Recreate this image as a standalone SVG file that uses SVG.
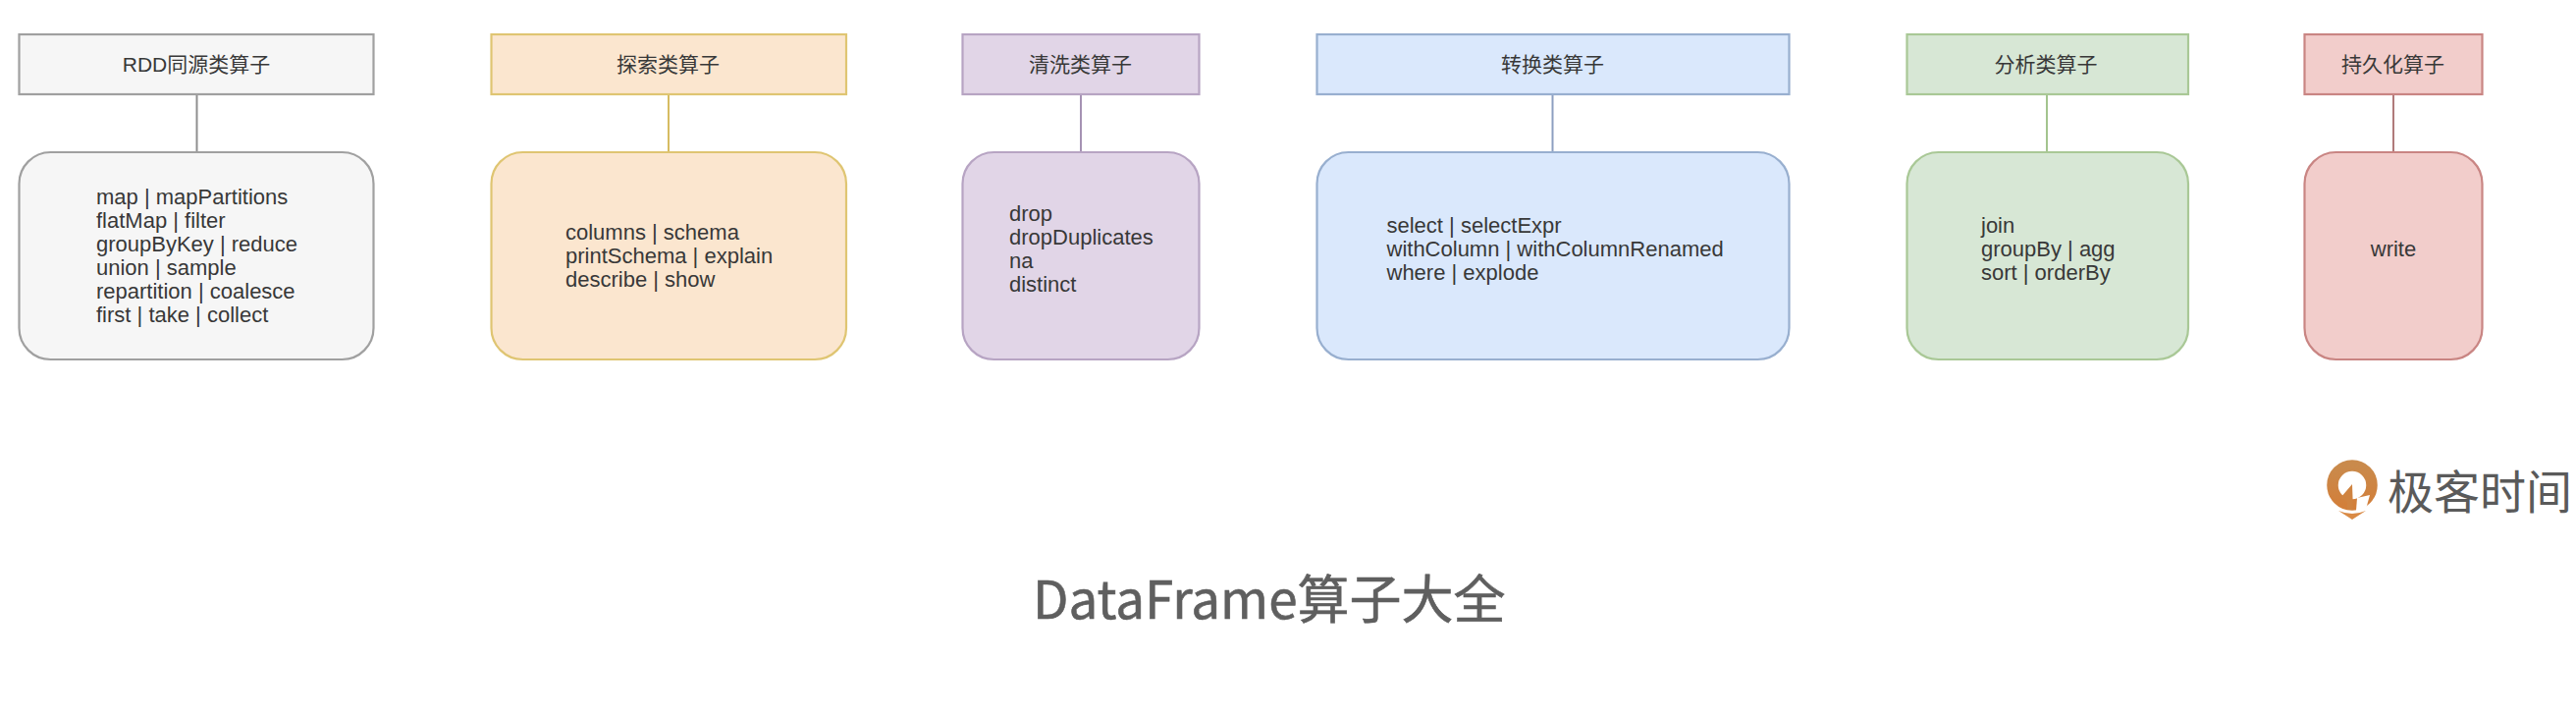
<svg xmlns="http://www.w3.org/2000/svg" width="2624" height="728" viewBox="0 0 2624 728">
<style>
text{font-family:"Liberation Sans","Noto Sans CJK SC",Arial,sans-serif;fill:#383838}
.h{font-size:21px;text-anchor:middle}
.b{font-size:22px}
.c{fill:none;stroke-width:2}
.n{stroke-width:2.2}
.gray .n{fill:#f6f6f6;stroke:#a0a0a0}
.yellow .n{fill:#fbe6cf;stroke:#dfc572}
.purple .n{fill:#e1d5e7;stroke:#b7a4c3}
.blue .n{fill:#dae8fc;stroke:#98afcf}
.green .n{fill:#d7e7d5;stroke:#a9c896}
.red .n{fill:#f2cdcb;stroke:#c98583}
.cjk{font-family:"Noto Sans CJK SC","Liberation Sans",sans-serif}
</style>
<defs><linearGradient id="lg" x1="0" y1="0" x2="0" y2="1"><stop offset="0" stop-color="#c98a4c"/><stop offset="1" stop-color="#d27f3a"/></linearGradient></defs>
<g id="connectors" class="c">
<line x1="200.500" y1="96" x2="200.500" y2="155" stroke="#8f8f8f"/>
<line x1="681" y1="96" x2="681" y2="155" stroke="#d6bc62"/>
<line x1="1101" y1="96" x2="1101" y2="155" stroke="#a592b3"/>
<line x1="1581.500" y1="96" x2="1581.500" y2="155" stroke="#8d9fc0"/>
<line x1="2085" y1="96" x2="2085" y2="155" stroke="#a3c48e"/>
<line x1="2438" y1="96" x2="2438" y2="155" stroke="#b07a7a"/>
</g>
<g id="rdd-head" class="gray"><rect class="n" x="19.500" y="35" width="361" height="61"/><text class="h" x="200" y="73">RDD同源类算子</text></g>
<g id="rdd-body" class="gray"><rect class="n" x="19.500" y="155" width="361" height="211" rx="32"/>
<text class="b" x="98" y="208">map | mapPartitions</text><text class="b" x="98" y="232">flatMap | filter</text><text class="b" x="98" y="256">groupByKey | reduce</text><text class="b" x="98" y="280">union | sample</text><text class="b" x="98" y="304">repartition | coalesce</text><text class="b" x="98" y="328">first | take | collect</text></g>
<g id="explore-head" class="yellow"><rect class="n" x="500.500" y="35" width="361.500" height="61"/><text class="h" x="680.500" y="73">探索类算子</text></g>
<g id="explore-body" class="yellow"><rect class="n" x="500.500" y="155" width="361.500" height="211" rx="32"/>
<text class="b" x="576" y="244">columns | schema</text><text class="b" x="576" y="268">printSchema | explain</text><text class="b" x="576" y="292">describe | show</text></g>
<g id="clean-head" class="purple"><rect class="n" x="980.500" y="35" width="241" height="61"/><text class="h" x="1100.500" y="73">清洗类算子</text></g>
<g id="clean-body" class="purple"><rect class="n" x="980.500" y="155" width="241" height="211" rx="32"/>
<text class="b" x="1028" y="225">drop</text><text class="b" x="1028" y="249">dropDuplicates</text><text class="b" x="1028" y="273">na</text><text class="b" x="1028" y="297">distinct</text></g>
<g id="transform-head" class="blue"><rect class="n" x="1341.500" y="35" width="481" height="61"/><text class="h" x="1581.500" y="73">转换类算子</text></g>
<g id="transform-body" class="blue"><rect class="n" x="1341.500" y="155" width="481" height="211" rx="32"/>
<text class="b" x="1412.500" y="237">select | selectExpr</text><text class="b" x="1412.500" y="261">withColumn | withColumnRenamed</text><text class="b" x="1412.500" y="285">where | explode</text></g>
<g id="analysis-head" class="green"><rect class="n" x="1942.500" y="35" width="286.500" height="61"/><text class="h" x="2084" y="73">分析类算子</text></g>
<g id="analysis-body" class="green"><rect class="n" x="1942.500" y="155" width="286.500" height="211" rx="32"/>
<text class="b" x="2018" y="237">join</text><text class="b" x="2018" y="261">groupBy | agg</text><text class="b" x="2018" y="285">sort | orderBy</text></g>
<g id="persist-head" class="red"><rect class="n" x="2347.500" y="35" width="181" height="61"/><text class="h" x="2437.500" y="73">持久化算子</text></g>
<g id="persist-body" class="red"><rect class="n" x="2347.500" y="155" width="181" height="211" rx="32"/>
<text class="b" x="2438" y="261" text-anchor="middle">write</text></g>
<g id="logo">
<circle cx="2396" cy="494" r="20" fill="none" stroke="url(#lg)" stroke-width="11.500"/>
<path d="M2401 507 L2414 504 L2409 522 L2400 520 Z" fill="#fff"/>
<path d="M2396 493 L2384 507 L2391 511 L2391 519 L2397 519 Z" fill="#cf8340"/>
<path d="M2382 520 Q2396 526 2410 520 L2396 529 Z" fill="#d98a45"/>
<text class="cjk" x="2432" y="518" font-size="47" style="fill:#5a5a5a">极客时间</text>
</g>
<text id="title" class="cjk" x="1052" y="630" font-size="53" style="fill:#5f5f5f;stroke:#5f5f5f;stroke-width:.6">DataFrame算子大全</text>
</svg>
